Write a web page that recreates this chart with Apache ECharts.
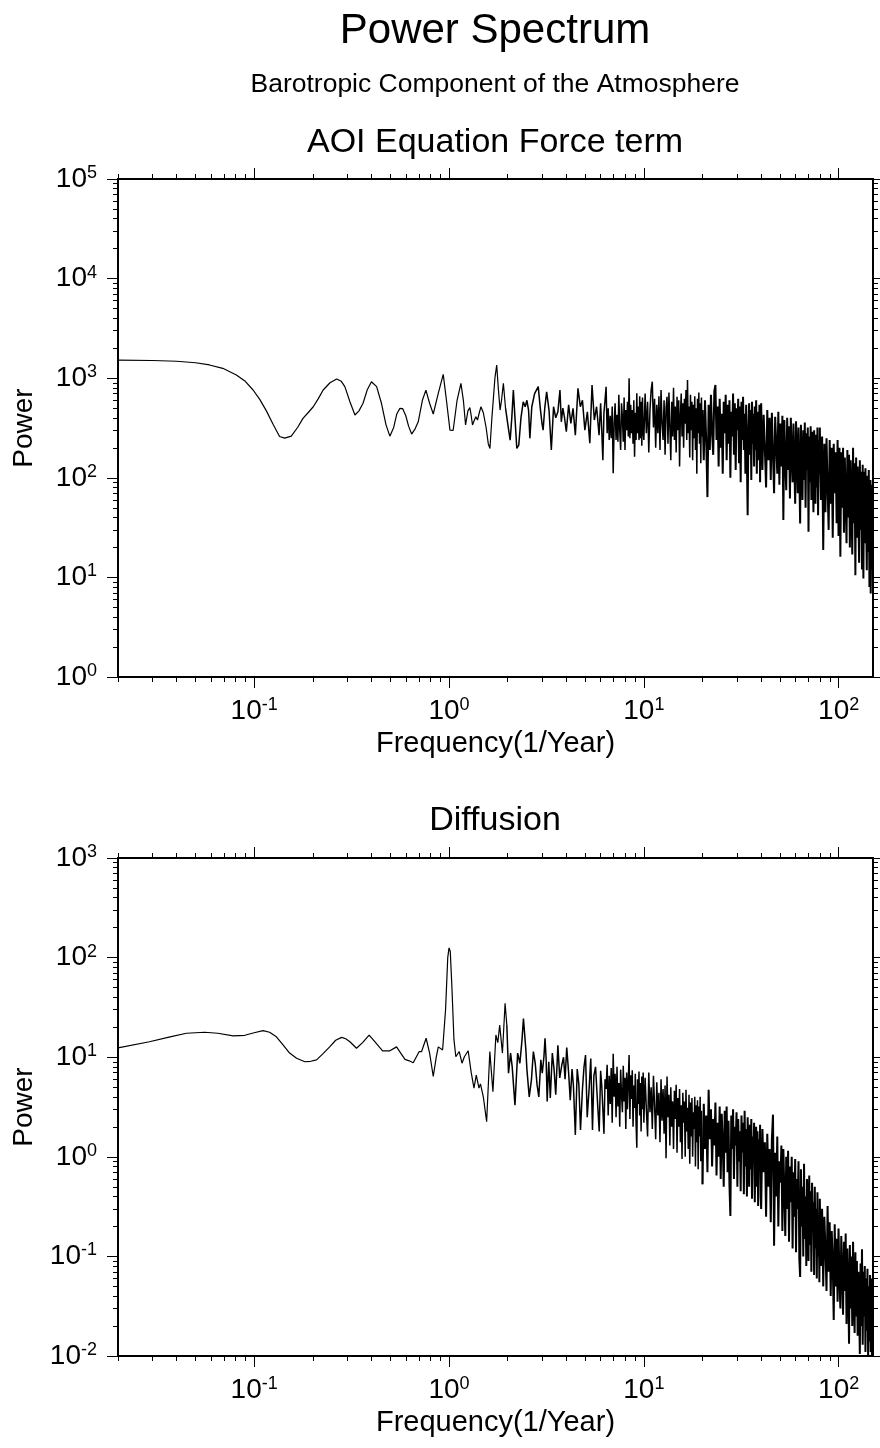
<!DOCTYPE html>
<html>
<head>
<meta charset="utf-8">
<title>Power Spectrum</title>
<script src="https://cdn.jsdelivr.net/npm/echarts@6.0.0/dist/echarts.min.js"></script>
<style>
  html, body { margin: 0; padding: 0; background: #fff; }
  #chart { width: 880px; height: 1448px; }
</style>
</head>
<body>
<div id="chart"></div>
<script>
// ---- data (frequency in 1/year, power) ----

// AOI equation force term, smooth low-frequency part
const forceFreqLow = [
  0.020,0.030,0.040,0.050,0.059,0.069,0.081,0.090,0.0987,0.107,
  0.1155,0.125,0.135,0.1435,0.155,0.167,0.178,0.190,0.201,0.213,
  0.226,0.245,0.265,0.280,0.292,0.310,0.329,0.345,0.362,0.380,
  0.400,0.425,0.450,0.475,0.497,0.520,0.540,0.560,0.578,0.600,
  0.620,0.643,0.670,0.695,0.730,0.761,0.795,0.830,0.880,0.934,
  0.970,1.011,1.05,1.10,1.151,1.185,1.216,1.25,1.279,1.30,
  1.32,1.35,1.373,1.40,1.43,1.459,1.50,1.55,1.59,1.622,
  1.66,1.72,1.757,1.79,1.828,1.86,1.901,1.95,2.017,2.06,
  2.10,2.139,2.18,2.228,2.28,2.34,2.404,2.46,2.51,2.56,
  2.60,2.66,2.75,2.87,2.94,3.00,3.04,3.10,3.17,3.26,
  3.35,3.44,3.53,3.62,3.71,3.77,3.84,3.91,4.00,4.11,
  4.22,4.33,4.45,4.59,4.72,4.84,4.98,5.13,5.28,5.42,
  5.57,5.72,5.89
];
const forcePowerLow = [
  1520,1505,1480,1430,1358,1257,1076,930,761,610,
  470,345,260,250,262,320,395,455,517,620,
  761,900,982,930,822,580,427,470,560,760,
  922,822,560,340,262,320,440,498,495,420,
  330,275,310,365,600,760,560,437,700,1094,
  600,301,300,600,889,600,339,470,506,420,
  339,380,410,380,450,517,450,320,220,197,
  400,1000,1358,800,479,600,889,500,314,239,
  400,761,400,197,213,400,580,517,600,479,
  249,517,700,822,500,352,301,500,730,479,
  190,517,400,460,761,365,500,410,290,540,
  352,498,268,792,517,600,301,460,222,855,
  380,517,268
];

// Diffusion, low-frequency part
const diffFreqLow = [
  0.020,0.029,0.037,0.0449,0.0557,0.065,0.078,0.0895,0.100,0.111,
  0.120,0.130,0.141,0.152,0.165,0.182,0.195,0.209,0.225,0.244,
  0.262,0.281,0.295,0.310,0.335,0.360,0.389,0.416,0.456,0.497,
  0.538,0.565,0.594,0.625,0.655,0.703,0.723,0.763,0.795,0.830,
  0.860,0.881,0.927,0.960,0.985,1.000,1.015,1.035,1.060,1.084,
  1.128,1.166,1.199,1.254,1.30,1.343,1.38,1.425,1.45,1.50,
  1.56,1.62,1.68,1.74,1.78,1.82,1.88,1.94,1.98,2.02,
  2.07,2.11,2.18,2.25,2.31,2.37,2.41,2.48,2.51,2.58,
  2.65,2.71,2.77,2.83,2.89,2.96,3.01,3.07,3.11,3.15,
  3.19,3.25,3.31,3.39,3.46,3.53,3.62,3.70,3.79,3.87,
  3.94,4.02,4.11,4.19,4.28,4.35,4.45,4.55,4.64,4.73,
  4.84,4.93,5.02,5.12,5.24,5.34,5.45,5.54,5.65,5.78,
  5.90
];
const diffPowerLow = [
  12.4,14.3,16.0,17.4,17.8,17.4,16.4,16.6,17.6,18.5,
  17.8,16.0,13.2,11.0,9.75,9.0,9.1,9.4,10.8,12.7,
  14.8,15.8,15.3,14.3,12.3,14.0,16.7,14.3,11.6,11.6,
  12.7,11.0,9.5,9.2,8.8,11.4,11.4,15.5,11.0,6.4,
  10.0,12.7,11.8,30,100,125,115,50,15,10.1,
  11.4,8.7,10.1,11.6,7.0,4.9,6.6,4.9,5.4,4.0,
  2.25,11.4,4.5,16.7,14,21,11,34.8,21,6.9,
  11,8.0,3.3,11,8.7,15,24.5,11.8,7.6,4.0,
  6.0,11.4,8.7,5.3,4.0,9.4,6.9,10.1,15.5,9.7,
  3.6,9.0,3.9,11,7.6,4.2,13.2,6.2,8.3,10,
  6.0,12.5,7,3.7,7.6,5.2,1.66,7.6,5.3,1.86,
  4.8,8,10.5,2.5,4.9,9.7,1.86,6.5,8,3.6,
  1.8
];

// dense high-frequency part, same frequencies for both panels
const freqHigh = [
  6.00,6.08,6.16,6.24,6.32,6.40,6.48,6.56,6.64,6.72,
  6.80,6.88,6.96,7.04,7.12,7.20,7.28,7.36,7.44,7.52,
  7.60,7.68,7.76,7.84,7.92,8.00,8.08,8.16,8.24,8.32,
  8.40,8.48,8.56,8.64,8.72,8.80,8.88,8.96,9.04,9.12,
  9.20,9.28,9.36,9.44,9.52,9.60,9.68,9.76,9.84,9.92,
  10.00,10.15,10.30,10.45,10.60,10.75,10.90,11.05,11.20,11.35,
  11.50,11.65,11.80,11.95,12.10,12.25,12.40,12.55,12.70,12.85,
  13.00,13.15,13.30,13.45,13.60,13.75,13.90,14.05,14.20,14.35,
  14.50,14.65,14.80,14.95,15.10,15.25,15.40,15.55,15.70,15.85,
  16.00,16.15,16.30,16.45,16.60,16.75,16.90,17.05,17.20,17.35,
  17.50,17.65,17.80,17.95,18.10,18.25,18.40,18.55,18.70,18.85,
  19.00,19.15,19.30,19.45,19.60,19.75,19.90,
  20.0,20.3,20.6,20.9,21.2,21.5,21.8,22.1,22.4,22.7,
  23.0,23.3,23.6,23.9,24.2,24.5,24.8,25.1,25.4,25.7,
  26.0,26.3,26.6,26.9,27.2,27.5,27.8,28.1,28.4,28.7,
  29.0,29.3,29.6,29.9,30.2,30.5,30.8,31.1,31.4,31.7,
  32.0,32.3,32.6,32.9,33.2,33.5,33.8,34.1,34.4,34.7,
  35.0,35.3,35.6,35.9,36.2,36.5,36.8,37.1,37.4,37.7,
  38.0,38.3,38.6,38.9,39.2,39.5,39.8,
  40.0,40.6,41.2,41.8,42.4,43.0,43.6,44.2,44.8,45.4,
  46.0,46.6,47.2,47.8,48.4,49.0,49.6,50.2,50.8,51.4,
  52.0,52.6,53.2,53.8,54.4,55.0,55.6,56.2,56.8,57.4,
  58.0,58.6,59.2,59.8,60.4,61.0,61.6,62.2,62.8,63.4,
  64.0,64.6,65.2,65.8,66.4,67.0,67.6,68.2,68.8,69.4,
  70.0,70.6,71.2,71.8,72.4,73.0,73.6,74.2,74.8,75.4,
  76.0,76.6,77.2,77.8,78.4,79.0,79.6,
  80.0,81.1,82.2,83.3,84.4,85.5,86.6,87.7,88.8,89.9,
  91.0,92.1,93.2,94.3,95.4,96.5,97.6,98.7,99.8,100.9,
  102.0,103.1,104.2,105.3,106.4,107.5,108.6,109.7,110.8,111.9,
  113.0,114.1,115.2,116.3,117.4,118.5,119.6,120.7,121.8,122.9,
  124.0,125.1,126.2,127.3,128.4,129.5,130.6,131.7,132.8,133.9,
  135.0,136.1,137.2,138.3,139.4,140.5,141.6,142.7,143.8,144.9,
  146.0,147.1,148.2,149.3,150.0
];
const forcePowerHigh = [
  560,300,150,450,600,820,280,500,240,420,
  250,520,111,350,560,240,430,230,680,300,
  190,560,410,230,640,190,480,300,580,260,
  997,250,540,280,480,220,600,163,450,240,
  705,280,520,239,660,250,580,210,640,300,
  240,700,280,580,180,480,760,922,320,620,
  200,540,280,660,190,760,350,240,600,170,
  500,650,220,720,320,150,580,260,800,240,
  520,180,650,300,600,130,420,700,260,560,
  200,620,350,760,240,959,280,520,160,680,
  300,580,150,540,250,660,190,500,110,620,
  280,720,220,560,140,640,260,
  480,150,600,230,64,540,190,680,280,170,
  740,855,240,520,130,620,200,440,110,580,
  280,680,150,540,220,600,100,460,260,700,
  170,560,120,500,300,620,140,520,90,580,
  240,650,190,440,110,540,150,42,300,560,
  170,480,95,580,220,440,130,520,190,600,
  110,460,260,150,540,90,420,
  560,120,430,190,80,480,150,400,95,450,
  170,70,410,220,110,460,85,350,130,420,
  37.6,380,150,75,400,120,330,62,400,170,
  90,350,130,55,370,190,70,320,110,34.8,
  340,140,60,300,95,360,50,280,120,320,
  28.7,260,90,330,60,290,110,45,300,130,
  55,270,80,320,42,240,110,
  320,60,260,18.8,220,45,250,80,30,240,
  55,200,25,220,70,180,35,240,26,200,
  16.1,180,50,200,28,160,60,22,190,40,
  170,20,150,55,17,200,35,140,10.5,160,
  25,130,45,14,150,30,115,12,135,9.75,
  115,22,125,40,11.8,105,18,120,8,95,
  6.9,85,12,95,7
];
const diffPowerHigh = [
  7.3,5.2,3.0,1.7,6.0,4.8,8.4,2.6,6.5,3.4,
  7.8,2.2,10.8,4.0,6.8,2.5,8.0,3.2,5.5,2.0,
  7.5,4.2,2.8,8.2,3.6,6.2,1.9,7.0,3.0,5.8,
  10.5,2.4,6.6,3.8,7.4,2.0,5.2,3.1,6.8,2.2,
  1.23,6.0,3.4,7.2,2.6,5.5,1.8,6.4,3.0,7.0,
  2.2,6.2,3.0,1.6,7.0,2.8,5.0,1.9,6.5,3.3,
  1.5,5.6,2.6,4.4,1.4,6.0,2.3,4.8,1.7,5.2,
  0.97,6.4,2.5,4.2,1.3,5.0,2.0,3.6,1.2,4.6,
  2.4,5.3,1.1,3.9,2.0,4.8,1.4,3.3,0.95,4.4,
  2.2,3.6,1.0,4.7,1.8,3.1,1.2,4.2,0.85,3.5,
  1.6,3.9,1.0,2.8,1.9,4.0,0.8,3.3,1.4,3.7,
  0.75,3.2,1.6,4.0,0.9,2.9,1.3,
  0.53,3.4,1.2,2.6,0.7,4.7,1.5,3.0,0.8,2.4,
  1.3,3.5,0.65,2.2,1.0,3.2,0.6,2.7,1.4,0.5,
  2.9,1.1,3.2,0.7,2.3,0.52,0.255,2.6,1.2,3.0,
  0.6,2.0,1.3,2.8,0.5,2.4,0.9,1.8,0.45,2.6,
  1.1,2.2,0.42,2.9,0.8,1.9,0.4,2.5,1.0,0.5,
  2.1,0.75,2.4,0.38,1.6,0.9,2.2,0.35,1.4,2.0,
  0.5,1.8,0.32,1.5,0.8,2.1,0.4,
  0.3,1.9,0.7,1.4,0.25,1.7,0.5,1.2,0.22,1.5,
  2.65,0.128,1.1,0.4,1.6,0.2,0.9,0.55,1.3,0.18,
  1.2,0.45,0.16,1.0,0.3,1.15,0.14,0.8,0.35,1.0,
  0.12,0.7,0.25,0.95,0.11,0.6,0.3,0.9,0.094,0.062,
  0.75,0.2,0.5,0.1,0.85,0.15,0.4,0.08,0.6,0.25,
  0.09,0.65,0.13,0.45,0.07,0.55,0.2,0.35,0.065,0.5,
  0.12,0.3,0.06,0.44,0.1,0.25,0.055,
  0.38,0.08,0.3,0.05,0.25,0.12,0.045,0.32,0.07,0.22,
  0.04,0.18,0.09,0.023,0.21,0.05,0.15,0.035,0.19,0.06,
  0.03,0.16,0.07,0.026,0.14,0.045,0.17,0.021,0.12,0.05,
  0.0133,0.13,0.03,0.1,0.02,0.14,0.04,0.017,0.11,0.025,
  0.09,0.016,0.07,0.03,0.0105,0.085,0.02,0.118,0.013,0.07,
  0.025,0.08,0.011,0.06,0.018,0.075,0.0098,0.05,0.014,0.065,
  0.011,0.06,0.0095,0.04,0.012
];

// axis ranges
const xMin = 0.02, xMax = 150;
const yRangeForce = [1, 1e5];
const yRangeDiff = [0.01, 1000];

// pen width per frequency band: the spectrum gets denser to the right
const penBands = [
  { upTo: 2.0, width: 1.2 },
  { upTo: 20, width: 1.5 },
  { upTo: Infinity, width: 2.0 }
];

// ---- helpers ----
const FONT = '"Liberation Sans", Arial, Helvetica, sans-serif';

function zip(xs, ys) {
  const n = Math.min(xs.length, ys.length);
  const out = [];
  for (let i = 0; i < n; i++) out.push([xs[i], ys[i]]);
  return out;
}

// cut one polyline into consecutive pieces that share their end points
function splitByFreq(points) {
  const pieces = [];
  let from = 0;
  penBands.forEach(function (b) {
    let to = from;
    while (to < points.length - 1 && points[to + 1][0] <= b.upTo) to++;
    if (to > from) pieces.push({ width: b.width, data: points.slice(from, to + 1) });
    from = to;
  });
  return pieces;
}

// decade positions (log10 space) inside [lo, hi]
function majorTicks(lo, hi) {
  const out = [];
  for (let n = Math.ceil(lo - 1e-9); n <= Math.floor(hi + 1e-9); n++) out.push(n);
  return out;
}
// 2..9 x 10^n positions (log10 space)
function minorTicks(lo, hi) {
  const out = [];
  for (let n = Math.floor(lo) - 1; n <= Math.ceil(hi); n++) {
    for (let k = 2; k <= 9; k++) {
      let v = n + Math.log10(k);
      if (Math.abs(v - lo) < 1e-9) v = lo;
      if (Math.abs(v - hi) < 1e-9) v = hi;
      if (v >= lo && v <= hi) out.push(v);
    }
  }
  return out;
}

const powRich = {
  b: { fontSize: 28, lineHeight: 30, fontFamily: FONT, color: '#000' },
  s: { fontSize: 18, lineHeight: 22, verticalAlign: 'top', fontFamily: FONT, color: '#000' }
};
function powLabel(v) {
  return '{b|10}{s|' + Math.round(v) + '}';
}

// an overlay value axis (log10 units) that only draws ticks / labels
function tickAxis(gi, pos, lo, hi, ticks, len, withLabels, margin) {
  return {
    type: 'value', gridIndex: gi, position: pos, min: lo, max: hi,
    axisLine: { show: false, onZero: false },
    axisTick: { show: true, inside: false, length: len, customValues: ticks,
                lineStyle: { color: '#000', width: 1 } },
    axisLabel: withLabels
      ? { show: true, customValues: ticks, margin: margin, formatter: powLabel, rich: powRich }
      : { show: false },
    splitLine: { show: false },
    silent: true
  };
}

const panels = [
  { top: 179, name: 'AOI Equation Force term', yRange: yRangeForce,
    data: zip(forceFreqLow, forcePowerLow).concat(zip(freqHigh, forcePowerHigh)) },
  { top: 858, name: 'Diffusion', yRange: yRangeDiff,
    data: zip(diffFreqLow, diffPowerLow).concat(zip(freqHigh, diffPowerHigh)) }
];

const grids = [], xAxes = [], yAxes = [], series = [];
const lx0 = Math.log10(xMin), lx1 = Math.log10(xMax);

panels.forEach(function (p, gi) {
  grids.push({
    left: 118, top: p.top, width: 755, height: 498,
    show: true, borderColor: '#000', borderWidth: 2, backgroundColor: 'transparent',
    containLabel: false, outerBoundsMode: 'none'
  });
  const ly0 = Math.log10(p.yRange[0]), ly1 = Math.log10(p.yRange[1]);

  // axis 0 of each group carries the data (log scale), the rest only draw the frame ticks
  const xIdx = xAxes.length, yIdx = yAxes.length;
  xAxes.push({ type: 'log', logBase: 10, gridIndex: gi, min: xMin, max: xMax, show: false,
               axisLine: { onZero: false } });
  const xMajor = tickAxis(gi, 'bottom', lx0, lx1, majorTicks(lx0, lx1), 11, true, 19);
  xMajor.name = 'Frequency(1/Year)';
  xMajor.nameLocation = 'middle';
  xMajor.nameGap = 52;
  xMajor.nameTextStyle = { fontSize: 29, fontFamily: FONT, color: '#000' };
  xAxes.push(xMajor);
  xAxes.push(tickAxis(gi, 'bottom', lx0, lx1, minorTicks(lx0, lx1), 5, false));
  xAxes.push(tickAxis(gi, 'top', lx0, lx1, majorTicks(lx0, lx1), 11, false));
  xAxes.push(tickAxis(gi, 'top', lx0, lx1, minorTicks(lx0, lx1), 5, false));

  yAxes.push({ type: 'log', logBase: 10, gridIndex: gi, min: p.yRange[0], max: p.yRange[1], show: false,
               axisLine: { onZero: false } });
  const yMajor = tickAxis(gi, 'left', ly0, ly1, majorTicks(ly0, ly1), 11, true, 21);
  yMajor.name = 'Power';
  yMajor.nameLocation = 'middle';
  yMajor.nameGap = 80;
  yMajor.nameTextStyle = { fontSize: 28, fontFamily: FONT, color: '#000' };
  yAxes.push(yMajor);
  yAxes.push(tickAxis(gi, 'left', ly0, ly1, minorTicks(ly0, ly1), 5, false));
  yAxes.push(tickAxis(gi, 'right', ly0, ly1, majorTicks(ly0, ly1), 11, false));
  yAxes.push(tickAxis(gi, 'right', ly0, ly1, minorTicks(ly0, ly1), 5, false));

  splitByFreq(p.data).forEach(function (piece) {
    series.push({
      name: p.name, type: 'line', xAxisIndex: xIdx, yAxisIndex: yIdx,
      data: piece.data, showSymbol: false, symbol: 'none', clip: true,
      lineStyle: { color: '#000', width: piece.width, join: 'bevel' }, silent: true
    });
  });
});

const chart = echarts.init(document.getElementById('chart'), null, { renderer: 'canvas' });
chart.setOption({
  backgroundColor: '#fff',
  animation: false,
  title: [
    { text: 'Power Spectrum', left: 495, top: 10, textAlign: 'center', padding: 0,
      textStyle: { fontSize: 42, fontWeight: 'normal', fontFamily: FONT, color: '#000' } },
    { text: 'Barotropic Component of the Atmosphere', left: 495, top: 71, textAlign: 'center', padding: 0,
      textStyle: { fontSize: 26.5, fontWeight: 'normal', fontFamily: FONT, color: '#000' } },
    { text: 'AOI Equation Force term', left: 495, top: 126, textAlign: 'center', padding: 0,
      textStyle: { fontSize: 34, fontWeight: 'normal', fontFamily: FONT, color: '#000' } },
    { text: 'Diffusion', left: 495, top: 804, textAlign: 'center', padding: 0,
      textStyle: { fontSize: 34, fontWeight: 'normal', fontFamily: FONT, color: '#000' } }
  ],
  grid: grids,
  xAxis: xAxes,
  yAxis: yAxes,
  series: series
});
</script>
</body>
</html>
